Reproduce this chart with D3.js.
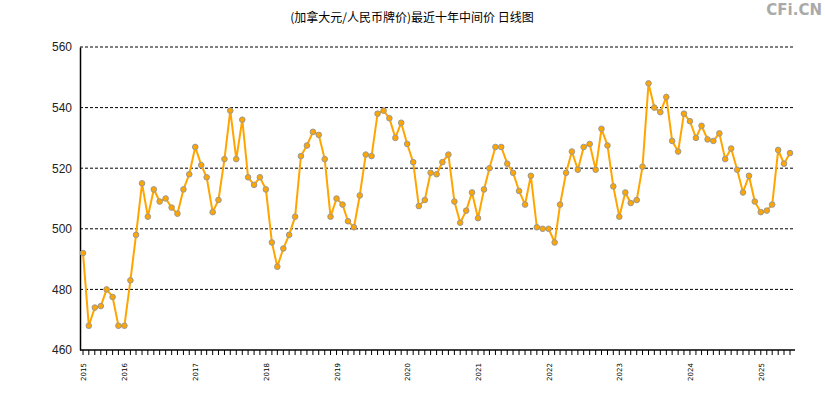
<!DOCTYPE html>
<html><head><meta charset="utf-8">
<script src="https://cdnjs.cloudflare.com/ajax/libs/d3/7.8.5/d3.min.js"></script>
<style>body{margin:0;background:#fff;font-family:"DejaVu Sans",sans-serif}</style>
</head><body>
<script>
// monthly mid rate, starting 2015-06
var startMonth = "2015-06";
var rates = [492,468,474,474.5,480,477.5,468,468,483,498,
  515,504,513,509,510,507,505,513,518,527,
  521,517,505.5,509.5,523,539,523,536,517,514.5,
  517,513,495.5,487.5,493.5,498,504,524,527.5,532,
  531,523,504,510,508,502.5,500.5,511,524.5,524,
  538,539,536.5,530,535,528,522,507.5,509.5,518.5,
  518,522,524.5,509,502,506,512,503.5,513,520,
  527,527,521.5,518.5,512.5,508,517.5,500.5,500,500,
  495.5,508,518.5,525.5,519.5,527,528,519.5,533,527.5,
  514,504,512,508.5,509.5,520.5,548,540,538.5,543.5,
  529,525.5,538,535.5,530,534,529.5,529,531.5,523,
  526.5,519.5,512,517.5,509,505.5,506,508,526,521.5,
  525];
var yTicks = [460,480,500,520,540,560];
var title = "(加拿大元/人民币牌价)最近十年中间价 日线图";

var W = 825, H = 400;
var svg = d3.select("body").append("svg").attr("width", W).attr("height", H);

var t0 = d3.timeParse("%Y-%m")(startMonth);
var data = rates.map(function(v, i){ return {date: d3.timeMonth.offset(t0, i), v: v}; });

var x = d3.scaleTime().domain([data[0].date, data[data.length-1].date]).range([83, 790]);
var y = d3.scaleLinear().domain([460, 560]).range([350, 47]);

svg.append("text").attr("x", 412).attr("y", 22).attr("text-anchor", "middle")
   .attr("font-size", 12).attr("font-family", "Noto Sans CJK SC").text(title);
svg.append("text").attr("x", 822).attr("y", 15).attr("text-anchor", "end")
   .attr("font-size", 15).attr("font-weight", "bold").attr("fill", "#aaa").text("CFi.CN");

// grid
svg.append("g").selectAll("line").data(yTicks.slice(1)).join("line")
   .attr("x1", 80).attr("x2", 795).attr("y1", y).attr("y2", y)
   .attr("stroke", "#000").attr("stroke-dasharray", "3,2");

svg.append("g").attr("transform", "translate(80,0)")
   .call(d3.axisLeft(y).tickValues(yTicks).tickSize(0).tickPadding(8))
   .call(function(g){ g.selectAll("text").attr("font-size", 12).attr("fill", "#222"); g.select(".domain").attr("stroke-width", 1.5); });

var xa = svg.append("g").attr("transform", "translate(0,350)");
xa.append("line").attr("x1", 80).attr("x2", 795).attr("stroke", "#000").attr("stroke-width", 1.5);
xa.selectAll(".mt").data(data).join("line")
  .attr("x1", function(d){ return x(d.date); }).attr("x2", function(d){ return x(d.date); })
  .attr("y2", 5).attr("stroke", "#000");
xa.selectAll(".yl").data(data.filter(function(d){ return d.date.getMonth() === 0 || d === data[0]; })).join("text")
  .attr("transform", function(d){ return "translate(" + (x(d.date) + 3) + ",22) rotate(-90)"; })
  .attr("text-anchor", "middle").attr("font-size", 7).text(function(d){ return d.date.getFullYear(); });

var line = d3.line().x(function(d){ return x(d.date); }).y(function(d){ return y(d.v); });
svg.append("path").datum(data).attr("d", line).attr("fill", "none")
   .attr("stroke", "#FFA500").attr("stroke-width", 2);
svg.append("g").selectAll("circle").data(data).join("circle")
   .attr("cx", function(d){ return x(d.date); }).attr("cy", function(d){ return y(d.v); })
   .attr("r", 2.8).attr("fill", "#FFA500").attr("stroke", "#999").attr("stroke-width", 1);
</script>
</body></html>
